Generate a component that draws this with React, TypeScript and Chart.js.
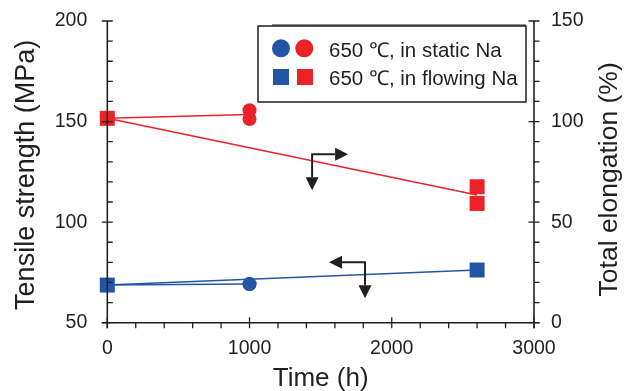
import React, { useEffect, useRef } from "react";
import { Chart, registerables } from "chart.js";

Chart.register(...registerables);

// ---------------- data ----------------
const lineTimesStatic = [0, 1000];
const lineTimesFlowing = [0, 2600];
const strengthStaticLine = [68.7, 69.2];
const strengthFlowingLine = [68.7, 76.2];
const elongationStaticLine = [101.6, 103.5];
const elongationFlowingLine = [101.6, 63.5];

const staticTimes = [1000, 1000];
const staticStrength = [69.2, 69.2];
const staticElongation = [105.6, 101.3];

const flowingStrengthTimes = [0, 2600];
const flowingStrength = [68.7, 76.2];
const flowingElongationTimes = [0, 2600, 2600];
const flowingElongation = [101.6, 67.6, 59.3];

const timeTicks = [0, 1000, 2000, 3000];
const strengthTicks = [50, 100, 150, 200];
const elongationTicks = [0, 50, 100, 150];
const timeMinorStep = 200;
const strengthMinorStep = 10;
const elongationMinorStep = 10;

const legendLabels = ["650 \u2103, in static Na", "650 \u2103, in flowing Na"];
const xTitle = "Time (h)";
const yTitle = "Tensile strength (MPa)";
const y1Title = "Total elongation (%)";

// arrow corners in data units (time, value on the axis they point to)
const arrowToElongation = { time: 1440, value: 83.7 };
const arrowToStrength = { time: 1812, value: 80 };

// ---------------- style ----------------
const RED = "#ec2228";
const BLUE = "#2355a6";
const INK = "#231f20";
const FONT = "'Liberation Sans', Arial, Helvetica, sans-serif";
const W = 614;
const H = 383;

const pts = (xs: number[], ys: number[]) => xs.map((x, i) => ({ x, y: ys[i] }));

function drawArrowElbow(ctx: CanvasRenderingContext2D, cx: number, cy: number, hdir: number) {
  const len = 36;
  const head = 13;
  const half = 6.5;
  ctx.beginPath();
  ctx.moveTo(cx + hdir * (len - head), cy);
  ctx.lineTo(cx, cy);
  ctx.lineTo(cx, cy + len - head);
  ctx.stroke();
  const hx = cx + hdir * len;
  ctx.beginPath();
  ctx.moveTo(hx, cy);
  ctx.lineTo(hx - hdir * head, cy - half);
  ctx.lineTo(hx - hdir * head, cy + half);
  ctx.closePath();
  ctx.fill();
  const vy = cy + len;
  ctx.beginPath();
  ctx.moveTo(cx, vy);
  ctx.lineTo(cx - half, vy - head);
  ctx.lineTo(cx + half, vy - head);
  ctx.closePath();
  ctx.fill();
}

const decorPlugin = {
  id: "decor",
  afterDraw(chart: any) {
    const { ctx, chartArea: ca, scales } = chart;
    const sx = scales.x;
    const sy = scales.y;
    const sy1 = scales.y1;
    const MAJ = 5.5;
    const MIN = 5.5;
    ctx.save();
    ctx.strokeStyle = INK;
    ctx.fillStyle = INK;
    ctx.lineWidth = 1.6;
    ctx.lineCap = "butt";
    ctx.beginPath();
    ctx.moveTo(ca.left, ca.top);
    ctx.lineTo(ca.left, ca.bottom + MAJ);
    ctx.moveTo(ca.right, ca.top);
    ctx.lineTo(ca.right, ca.bottom + MAJ);
    ctx.moveTo(ca.left - MAJ, ca.bottom);
    ctx.lineTo(ca.right + MAJ, ca.bottom);
    ctx.stroke();

    ctx.lineWidth = 1.3;
    ctx.beginPath();
    for (let v = sy.min; v <= sy.max + 1e-6; v += strengthMinorStep) {
      const p = sy.getPixelForValue(v);
      const major = strengthTicks.includes(Math.round(v));
      ctx.moveTo(ca.left - (major ? MAJ : 0), p);
      ctx.lineTo(ca.left + MIN, p);
    }
    for (let v = sy1.min; v <= sy1.max + 1e-6; v += elongationMinorStep) {
      const p = sy1.getPixelForValue(v);
      const major = elongationTicks.includes(Math.round(v));
      ctx.moveTo(ca.right - (major ? MAJ : 0), p);
      ctx.lineTo(ca.right + MIN, p);
    }
    for (let v = sx.min; v <= sx.max + 1e-6; v += timeMinorStep) {
      const p = sx.getPixelForValue(v);
      const major = timeTicks.includes(Math.round(v));
      ctx.moveTo(p, ca.bottom - (major ? MAJ : 0));
      ctx.lineTo(p, ca.bottom + MIN);
    }
    ctx.stroke();

    ctx.lineWidth = 2;
    ctx.lineJoin = "miter";
    drawArrowElbow(ctx, sx.getPixelForValue(arrowToElongation.time), sy1.getPixelForValue(arrowToElongation.value), 1);
    drawArrowElbow(ctx, sx.getPixelForValue(arrowToStrength.time), sy.getPixelForValue(arrowToStrength.value), -1);

    const bw = 268;
    const bh = 76;
    const bx = ca.right - 8 - bw;
    const by = ca.top + 5;
    ctx.fillStyle = "#ffffff";
    ctx.fillRect(bx, by, bw, bh);
    ctx.strokeStyle = INK;
    ctx.lineWidth = 1.5;
    ctx.strokeRect(bx, by, bw, bh);
    ctx.beginPath();
    ctx.moveTo(bx + 14, by - 1);
    ctx.lineTo(bx + bw, by - 1);
    ctx.lineWidth = 1;
    ctx.stroke();

    const row1 = by + 22.3;
    const row2 = by + 51;
    ctx.fillStyle = BLUE;
    ctx.beginPath();
    ctx.arc(bx + 23, row1, 9, 0, Math.PI * 2);
    ctx.fill();
    ctx.fillStyle = RED;
    ctx.beginPath();
    ctx.arc(bx + 46.3, row1, 9, 0, Math.PI * 2);
    ctx.fill();
    ctx.fillStyle = BLUE;
    ctx.fillRect(bx + 23 - 8, row2 - 8, 16, 16);
    ctx.fillStyle = RED;
    ctx.fillRect(bx + 47 - 8, row2 - 8, 16, 16);

    ctx.fillStyle = INK;
    ctx.font = `20.5px ${FONT}`;
    ctx.textAlign = "left";
    ctx.textBaseline = "alphabetic";
    ctx.fillText(legendLabels[0], bx + 71, by + 30.7);
    ctx.fillText(legendLabels[1], bx + 71, by + 59);

    ctx.textAlign = "center";
    ctx.font = `26px ${FONT}`;
    ctx.fillText(xTitle, (ca.left + ca.right) / 2, ca.bottom + 63.3);
    ctx.save();
    ctx.font = `27px ${FONT}`;
    ctx.translate(25.8, (ca.top + ca.bottom) / 2 + 3);
    ctx.rotate(-Math.PI / 2);
    ctx.fillText(yTitle, 0, 0);
    ctx.restore();
    ctx.save();
    ctx.font = `26.5px ${FONT}`;
    ctx.translate(608.5, (ca.top + ca.bottom) / 2 + 7.5);
    ctx.rotate(-Math.PI / 2);
    ctx.fillText(y1Title, 0, 0);
    ctx.restore();

    ctx.restore();
  },
};

export default function App() {
  const ref = useRef<HTMLCanvasElement | null>(null);
  useEffect(() => {
    if (!ref.current) return;
    const tickFont = { family: FONT, size: 19.5 };
    const marker = (xs: number[], ys: number[], axis: string, style: string, r: number, color: string) => ({
      data: pts(xs, ys),
      yAxisID: axis,
      pointStyle: style,
      pointRadius: r,
      backgroundColor: color,
      borderWidth: 0,
      showLine: false,
      clip: false,
      order: 1,
    });
    const line = (xs: number[], ys: number[], axis: string, color: string) => ({
      data: pts(xs, ys),
      yAxisID: axis,
      showLine: true,
      borderColor: color,
      borderWidth: 1.5,
      pointRadius: 0,
      clip: false,
      order: 2,
    });
    const zeroPad = (s: any) => {
      s.paddingTop = 0;
      s.paddingBottom = 0;
      s.paddingLeft = 0;
      s.paddingRight = 0;
    };
    const chart = new Chart(ref.current, {
      type: "scatter",
      data: {
        datasets: [
          marker(flowingElongationTimes, flowingElongation, "y1", "rect", 10.6, RED),
          marker(staticTimes, staticElongation, "y1", "circle", 7, RED),
          marker(flowingStrengthTimes, flowingStrength, "y", "rect", 10.6, BLUE),
          marker(staticTimes, staticStrength, "y", "circle", 7, BLUE),
          line(lineTimesStatic, elongationStaticLine, "y1", RED),
          line(lineTimesFlowing, elongationFlowingLine, "y1", RED),
          line(lineTimesStatic, strengthStaticLine, "y", BLUE),
          line(lineTimesFlowing, strengthFlowingLine, "y", BLUE),
        ],
      },
      options: {
        responsive: false,
        animation: false,
        events: [],
        layout: { padding: { top: 13, left: 0, right: 0, bottom: 0 }, autoPadding: false },
        plugins: { legend: { display: false }, tooltip: { enabled: false } },
        scales: {
          x: {
            type: "linear",
            min: 0,
            max: 3000,
            afterBuildTicks: (s: any) => {
              s.ticks = timeTicks.map((v) => ({ value: v }));
            },
            afterFit: (s: any) => {
              s.height = H - 314.7;
              zeroPad(s);
            },
            ticks: { font: tickFont, color: INK, padding: 14, maxRotation: 0, autoSkip: false, callback: (v: any) => String(v) },
            grid: { display: false, drawTicks: false },
            border: { display: false },
          },
          y: {
            type: "linear",
            position: "left",
            min: 50,
            max: 200,
            afterBuildTicks: (s: any) => {
              s.ticks = strengthTicks.map((v) => ({ value: v }));
            },
            afterFit: (s: any) => {
              s.width = 99.3;
              zeroPad(s);
            },
            ticks: { font: tickFont, color: INK, padding: 20, callback: (v: any) => String(v) },
            grid: { display: false, drawTicks: false },
            border: { display: false },
          },
          y1: {
            type: "linear",
            position: "right",
            min: 0,
            max: 150,
            afterBuildTicks: (s: any) => {
              s.ticks = elongationTicks.map((v) => ({ value: v }));
            },
            afterFit: (s: any) => {
              s.width = W - 526;
              zeroPad(s);
            },
            ticks: { font: tickFont, color: INK, padding: 17, callback: (v: any) => String(v) },
            grid: { display: false, drawTicks: false },
            border: { display: false },
          },
        },
      },
      plugins: [decorPlugin],
    } as any);
    return () => chart.destroy();
  }, []);
  return (
    <div style={{ width: W, height: H }}>
      <canvas ref={ref} width={W} height={H} style={{ display: "block" }} />
    </div>
  );
}
